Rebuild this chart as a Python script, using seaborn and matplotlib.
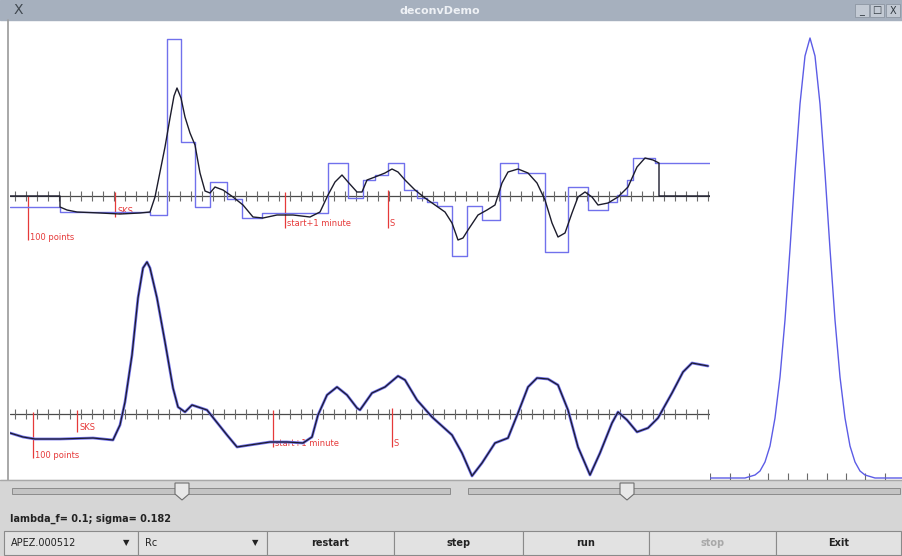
import matplotlib
matplotlib.use("Agg")
import matplotlib.pyplot as plt
from matplotlib.patches import Rectangle, Polygon
import pandas as pd
import seaborn as sns

# ---------------- data ----------------
# upper trace: observed seismogram (sample index, amplitude)
obs_x = [0, 50, 50, 57, 67, 90, 110, 130, 140, 145, 150, 155, 160, 164, 167, 171, 175, 180,
         185, 190, 195, 200, 205, 213, 223, 233, 243, 253, 267, 283, 300, 310, 318, 325, 332,
         338, 347, 352, 357, 365, 375, 382, 388, 395, 405, 415, 425, 435, 442, 448, 453, 458,
         468, 477, 485, 492, 498, 508, 518, 527, 535, 542, 548, 555, 562, 568, 575, 582, 588,
         598, 608, 618, 627, 635, 643, 649, 649, 700]
obs_y = [0, 0, -11, -14, -16, -17, -18, -17, -16, -1, 24, 49, 78, 100, 108, 98, 79, 63,
         51, 23, 5, 3, 9, 6, -1, -9, -21, -22, -19, -19, -21, -16, 1, 14, 21,
         14, 4, 4, 16, 19, 23, 27, 24, 16, 6, -2, -9, -16, -27, -44, -42, -34,
         -19, -14, -9, 13, 24, 27, 23, 13, -4, -27, -41, -37, -17, -1, 4, -1, -9,
         -7, -1, 9, 29, 38, 36, 33, 0, 0]

# upper trace: deconvolved spike model (piecewise constant)
model_edges = [0, 50, 140, 157, 171, 185, 200, 217, 232, 252, 318, 338, 353, 365, 378, 394,
               407, 417, 427, 442, 457, 472, 490, 508, 535, 558, 578, 598, 607, 617, 623, 645, 700]
model_level = [-11, -16, -19, 157, 54, -11, 14, -3, -22, -17, 33, -2, 16, 21, 33, 6,
               -2, -6, -10, -60, -10, -24, 33, 23, -56, 9, -14, -6, 1, 16, 38, 33]

# lower trace: data and reconvolved fit
low_x = [0, 13, 25, 50, 83, 103, 110, 115, 122, 128, 133, 137, 140, 147, 155, 163, 168, 175,
         182, 188, 197, 205, 217, 227, 240, 260, 277, 293, 302, 308, 317, 327, 337, 347, 350,
         362, 375, 388, 395, 407, 422, 442, 452, 462, 472, 485, 498, 508, 518, 527, 538, 548,
         558, 568, 580, 590, 602, 608, 617, 627, 638, 648, 662, 673, 682, 698]
low_y = [-19, -23, -25, -25, -24, -26, -11, 12, 59, 116, 146, 152, 146, 116, 72, 26, 7, 2,
         9, 7, 4, -6, -21, -33, -31, -28, -28, -29, -23, -1, 19, 27, 19, 6, 4,
         21, 27, 38, 34, 14, -3, -21, -39, -62, -49, -29, -24, 1, 27, 36, 35, 29,
         4, -33, -61, -39, -9, 2, -6, -18, -14, -4, 21, 42, 51, 48]

# source wavelet (gaussian, sigma = 0.182)
wav_x = [0, 35, 45, 50, 55, 60, 65, 70, 75, 80, 85, 90, 95, 100, 105, 110, 115, 120, 125,
         130, 135, 140, 145, 150, 155, 165, 192]
wav_y = [0, 0, 3, 7, 16, 32, 60, 101, 158, 229, 305, 374, 422, 440, 422, 374, 305, 229, 158,
         101, 60, 32, 16, 7, 3, 0, 0]

# phase markers: (sample, label, line top, line bottom, label height)
upper_marks = [(18, "100 points", 0, -44, -42), (105, "SKS", 4, -21, -16),
               (275, "start+1 minute", 4, -32, -28), (378, "S", 6, -32, -28)]
lower_marks = [(23, "100 points", 2, -44, -41), (67, "SKS", 4, -18, -14),
               (263, "start+1 minute", 4, -33, -29), (382, "S", 6, -33, -29)]

status_text = "lambda_f= 0.1; sigma= 0.182"
button_labels = ["restart", "step", "run", "stop", "Exit"]
combo_labels = ["APEZ.000512", "Rc"]

# ---------------- figure ----------------
sns.set_theme(style="white")
plt.rcParams["font.family"] = ["DejaVu Sans"]

W, H = 902, 556
fig = plt.figure(figsize=(W / 100, H / 100), dpi=100)


def rect(x0, y0, x1, y1):
    return [x0 / W, 1 - y1 / H, (x1 - x0) / W, (y1 - y0) / H]


ui = fig.add_axes([0, 0, 1, 1])
ui.set_xlim(0, W)
ui.set_ylim(H, 0)
ui.axis("off")

# window frame
ui.add_patch(Rectangle((0, 0), W, H, color="white", zorder=0))
ui.add_patch(Rectangle((0, 0), W, 20, color="#a6b0be", zorder=1))
ui.plot([8, 8], [20, 480], color="#9a9a9a", lw=1.2, zorder=2)
ui.text(440, 10.5, "deconvDemo", ha="center", va="center", color="#eef1f5",
        fontsize=8, fontweight="bold", zorder=3)
ui.text(18, 10.5, "X", ha="center", va="center", color="#404850", fontsize=10, zorder=3)
for cx, sym in [(862, "_"), (877, "□"), (893, "X")]:
    ui.add_patch(Rectangle((cx - 7, 4), 14, 13, facecolor="#c3cad4", edgecolor="#8d96a2",
                           lw=0.6, zorder=2))
    ui.text(cx, 10.5, sym, ha="center", va="center", color="#303840", fontsize=7, zorder=3)

# control panel
ui.add_patch(Rectangle((0, 480), W, 76, color="#d6d6d6", zorder=1))
ui.plot([0, W], [480, 480], color="#a8a8a8", lw=1, zorder=2)
for (x0, x1, thumb) in [(12, 450, 182), (468, 900, 627)]:
    ui.add_patch(Rectangle((x0, 488), x1 - x0, 6, facecolor="#c4c4c4", edgecolor="#8c8c8c",
                           lw=0.7, zorder=2))
    ui.add_patch(Polygon([(thumb - 7, 483), (thumb + 7, 483), (thumb + 7, 494), (thumb, 500),
                          (thumb - 7, 494)], closed=True, facecolor="#e8e8e8",
                         edgecolor="#6e6e6e", lw=0.8, zorder=3))
ui.text(10, 519, status_text, ha="left", va="center", color="#222222", fontsize=7,
        fontweight="bold", zorder=3)

edges = [4, 138, 267, 394, 523, 649, 776, 901]
for i in range(7):
    x0, x1 = edges[i], edges[i + 1]
    ui.add_patch(Rectangle((x0, 531), x1 - x0, 24, facecolor="#e2e2e2", edgecolor="#8a8a8a",
                           lw=0.8, zorder=2))
    if i < 2:
        ui.text(x0 + 7, 543, combo_labels[i], ha="left", va="center", color="#222222",
                fontsize=7, zorder=3)
        ui.text(x1 - 12, 543, "▼", ha="center", va="center", color="#222222",
                fontsize=6, zorder=3)
    else:
        lab = button_labels[i - 2]
        col = "#a8a8a8" if lab == "stop" else "#222222"
        ui.text((x0 + x1) / 2, 543, lab, ha="center", va="center", color=col,
                fontsize=7, fontweight="bold", zorder=3)

BLUE = "#7171ec"
DARK = "#1c1c2c"
RED = "#e63a3a"
TICK_X = [5 + 11 * k for k in range(64)]


def trace_axes(r, ylo, yhi):
    ax = fig.add_axes(r)
    ax.set_facecolor("none")
    ax.set_xlim(0, 700)
    ax.set_ylim(ylo, yhi)
    ax.axis("off")
    ax.axhline(0, color="#4a4a4a", lw=0.9, zorder=1)
    ax.vlines(TICK_X, -5, 5, color="#6a6a6a", lw=0.8, zorder=1)
    return ax


def add_marks(ax, marks):
    for x, lab, top, bottom, ytxt in marks:
        ax.vlines(x, bottom, top, color=RED, lw=0.9, zorder=2)
        ax.text(x + 2, ytxt, lab, color=RED, fontsize=6, ha="left", va="center", zorder=2)


# upper panel
ax1 = trace_axes(rect(10, 20, 710, 265), -69, 176)
add_marks(ax1, upper_marks)
step_df = pd.DataFrame({"x": model_edges, "y": model_level + [model_level[-1]]})
sns.lineplot(data=step_df, x="x", y="y", ax=ax1, sort=False, estimator=None,
             color=BLUE, lw=1.0, drawstyle="steps-post", zorder=3)
sns.lineplot(x=obs_x, y=obs_y, ax=ax1, sort=False, estimator=None, color=DARK, lw=1.0,
             zorder=4)

# lower panel
ax2 = trace_axes(rect(10, 255, 710, 480), -66, 159)
add_marks(ax2, lower_marks)
sns.lineplot(x=low_x, y=low_y, ax=ax2, sort=False, estimator=None, color=BLUE, lw=2.0,
             zorder=3)
sns.lineplot(x=low_x, y=low_y, ax=ax2, sort=False, estimator=None, color=DARK, lw=0.9,
             zorder=4)

# wavelet panel
ax3 = fig.add_axes(rect(710, 20, 902, 480))
ax3.set_facecolor("none")
ax3.set_xlim(0, 192)
ax3.set_ylim(-2, 458)
ax3.axis("off")
ax3.vlines([0, 20, 39, 58, 78, 97, 117, 136, 155, 175], -2, 5, color="#6a6a6a", lw=0.8)
sns.lineplot(x=wav_x, y=wav_y, ax=ax3, sort=False, estimator=None, color="#5c5ce6", lw=1.0)

for a in (ax1, ax2, ax3):
    leg = a.get_legend()
    if leg is not None:
        leg.remove()

fig.savefig("out.png", dpi=100)
